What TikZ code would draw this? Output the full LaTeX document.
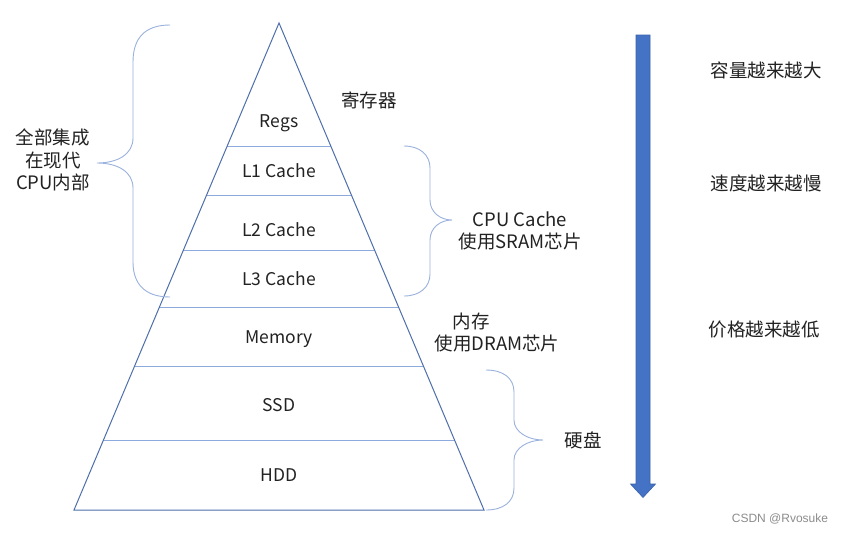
\documentclass[tikz,border=0pt]{standalone}
\usepackage{fontspec}
\setmainfont{Noto Sans CJK SC}
\newfontfamily\wmfont{Liberation Sans}
\definecolor{edgeblue}{HTML}{4F6FAA}
\definecolor{lineblue}{HTML}{8EA9DB}
\definecolor{bracecol}{HTML}{9AB2DC}
\definecolor{arrowfill}{HTML}{4472C4}
\definecolor{arrowedge}{HTML}{3A62AC}
\definecolor{txt}{HTML}{222222}
\begin{document}
\begin{tikzpicture}[x=1pt,y=-1pt,
  lbl/.style={font=\fontsize{17.5}{20}\selectfont, text=txt, inner sep=0pt, align=center},
  side/.style={font=\fontsize{18.5}{22.5}\selectfont, text=txt, inner sep=0pt, align=center},
  layer/.style={draw=lineblue, line width=0.9pt},
  bracestyle/.style={draw=bracecol, line width=0.9pt}]
\useasboundingbox (0,0) rectangle (843,547);
\fill[white] (0,0) rectangle (843,547);
% pyramid
\coordinate (apex) at (279,23);
\coordinate (bl) at (74,510);
\coordinate (br) at (484,510);
\foreach \yy in {146,195,250,307,366,440}{
  \pgfmathsetmacro{\dx}{(\yy-23)/487*205}
  \draw[layer] ({279-\dx},\yy) -- ({279+\dx},\yy);
}
\draw[edgeblue, line width=1pt, line join=miter] (apex) -- (bl) -- (br) -- cycle;
% layer labels
\node[lbl] (regs) at (279,123) {Regs};
\node[lbl] (l1) at (279,171) {L1 Cache};
\node[lbl] (l2) at (279,230) {L2 Cache};
\node[lbl] (l3) at (279,279) {L3 Cache};
\node[lbl] (mem) at (279,339) {Memory};
\node[lbl] (ssd) at (279,405) {SSD};
\node[lbl] (hdd) at (279,475) {HDD};
% braces
\draw[bracestyle] (170,25) .. controls (145,25) and (133,38) .. (133,62)
  -- (133,138) .. controls (133,154) and (118,163) .. (97,163)
  .. controls (118,163) and (133,172) .. (133,188)
  -- (133,262) .. controls (133,284) and (145,297) .. (170,297);
\draw[bracestyle] (404,146) .. controls (420,146) and (430,155) .. (430,168)
  -- (430,200) .. controls (430,212) and (440,220) .. (452,220)
  .. controls (440,220) and (430,228) .. (430,240)
  -- (430,274) .. controls (430,287) and (420,296) .. (404,296);
\draw[bracestyle] (486,370) .. controls (503,370) and (514,378) .. (514,392)
  -- (514,420) .. controls (514,432) and (528,440) .. (543,440)
  .. controls (528,440) and (514,448) .. (514,460)
  -- (514,488) .. controls (514,502) and (503,510) .. (486,510);
% side labels
\node[side] (reg) at (369,100) {寄存器};
\node[side] (cpuin) at (53,160) {全部集成\\在现代\\CPU内部};
\node[side] (cache) at (520,231) {CPU Cache\\使用SRAM芯片};
\node[side] (nc) at (471,321) {内存};
\node[side] (dram) at (497,343) {使用DRAM芯片};
\node[side] (disk) at (583,440) {硬盘};
% arrow
\draw[fill=arrowfill, draw=arrowedge, line width=0.6pt]
  (636,35) -- (650,35) -- (650,484) -- (655.5,484) -- (643,497.5) -- (630.5,484) -- (636,484) -- cycle;
\node[side] (cap) at (766,70) {容量越来越大};
\node[side] (spd) at (766,183) {速度越来越慢};
\node[side] (prc) at (764,330) {价格越来越低};
% watermark
\node[font=\wmfont\fontsize{12}{14}\selectfont, text=black!45, inner sep=0pt] (wm) at (780,519) {CSDN @Rvosuke};
\end{tikzpicture}
\end{document}
